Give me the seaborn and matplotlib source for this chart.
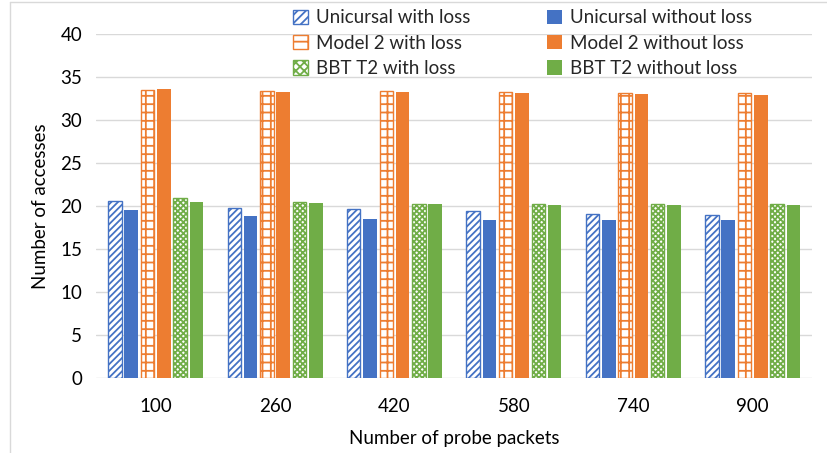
import matplotlib
matplotlib.use("Agg")
import matplotlib.pyplot as plt
import matplotlib.lines as mlines
from matplotlib.patches import Patch
import seaborn as sns
import pandas as pd

categories = ["100", "260", "420", "580", "740", "900"]
series = ["Unicursal with loss", "Unicursal without loss",
          "Model 2 with loss", "Model 2 without loss",
          "BBT T2 with loss", "BBT T2 without loss"]
unicursal_with = [20.6, 19.8, 19.7, 19.45, 19.1, 19.0]
unicursal_without = [19.55, 18.85, 18.5, 18.45, 18.4, 18.4]
model2_with = [33.55, 33.4, 33.4, 33.25, 33.2, 33.15]
model2_without = [33.65, 33.35, 33.3, 33.2, 33.1, 33.0]
bbt_with = [20.95, 20.45, 20.3, 20.25, 20.25, 20.25]
bbt_without = [20.55, 20.35, 20.3, 20.15, 20.2, 20.1]

values = [unicursal_with, unicursal_without, model2_with, model2_without,
          bbt_with, bbt_without]
colors = ["#4472C4", "#4472C4", "#ED7D31", "#ED7D31", "#70AD47", "#70AD47"]
hatches = ["/////", None, "++", None, "xxxxxx", None]
leg_hatches = ["////", None, "+", None, "xxxx", None]

rows = []
for s, vals in zip(series, values):
    for c, v in zip(categories, vals):
        rows.append({"packets": c, "accesses": v, "series": s})
df = pd.DataFrame(rows)

sns.set_theme(style="white")
plt.rcParams["font.family"] = ["Lato", "DejaVu Sans"]
plt.rcParams["hatch.linewidth"] = 1.3

fig = plt.figure(figsize=(8.28, 4.53), dpi=100)
ax = fig.add_axes([0.116, 0.165, 0.865, 0.759])

sns.barplot(data=df, x="packets", y="accesses", hue="series",
            hue_order=series, order=categories,
            palette=dict(zip(series, colors)), width=0.82, gap=0.17,
            saturation=1, ax=ax, legend=False, errorbar=None)

for cont, col, h in zip(ax.containers, colors, hatches):
    for bar in cont:
        if h is not None:
            bar.set_facecolor("white")
            bar.set_edgecolor(col)
            bar.set_hatch(h)
            bar.set_linewidth(1.0)
        else:
            bar.set_edgecolor("none")

ax.set_ylim(0, 40)
ax.set_yticks(range(0, 41, 5))
ax.yaxis.grid(True, color="#d9d9d9", linewidth=1)
ax.set_axisbelow(True)
for sp in ax.spines.values():
    sp.set_visible(False)
ax.tick_params(axis="both", length=0, labelsize=13.5, colors="black", pad=10)
ax.tick_params(axis="x", pad=14)
ax.set_xlabel("Number of probe packets", fontsize=13.5, color="black", labelpad=11)
ax.set_ylabel("Number of accesses", fontsize=13.5, color="black", labelpad=8)

handles = []
for s, col, h in zip(series, colors, leg_hatches):
    if h is not None:
        handles.append(Patch(facecolor="white", edgecolor=col, hatch=h, label=s))
    else:
        handles.append(Patch(facecolor=col, edgecolor="none", label=s))
order = [0, 2, 4, 1, 3, 5]
leg = ax.legend([handles[i] for i in order], [series[i] for i in order],
                ncol=2, frameon=False, fontsize=13.5, loc="upper left",
                bbox_to_anchor=(0.265, 1.095), handlelength=0.8, handleheight=0.8,
                handletextpad=0.4, columnspacing=4.1, labelspacing=0.45,
                borderaxespad=0)

fig.add_artist(mlines.Line2D([0.012, 0.012], [0, 0.996], transform=fig.transFigure,
                             color="#d9d9d9", linewidth=1))
fig.add_artist(mlines.Line2D([0.012, 1], [0.996, 0.996], transform=fig.transFigure,
                             color="#d9d9d9", linewidth=1))

fig.savefig("out.png", dpi=100)
